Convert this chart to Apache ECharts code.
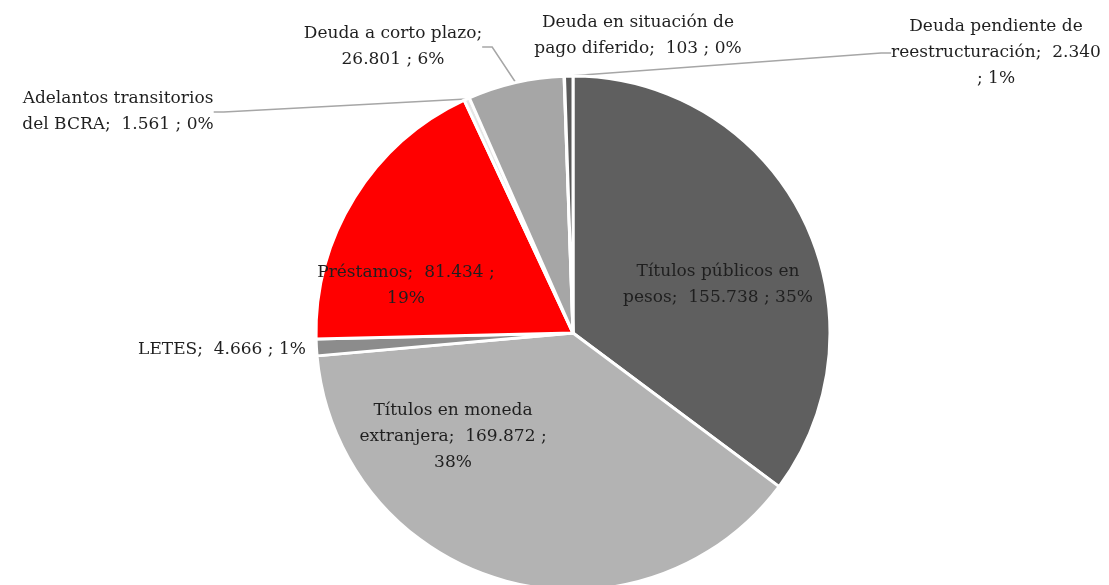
<!DOCTYPE html>
<html>
<head>
<meta charset="utf-8">
<script src="https://cdn.jsdelivr.net/npm/echarts@6/dist/echarts.min.js"></script>
<style>
  html, body { margin: 0; padding: 0; background: #fff; }
  #chart { width: 1109px; height: 585px; }
</style>
</head>
<body>
<div id="chart"></div>
<script>
// categorias (con salto de linea donde el rotulo original corta)
const names = [
  'Títulos públicos en\npesos',
  'Títulos en moneda\nextranjera',
  'LETES',
  'Préstamos',
  'Adelantos transitorios\ndel BCRA',
  'Deuda a corto plazo',
  'Deuda en situación de\npago diferido',
  'Deuda pendiente de\nreestructuración'
];
// millones
const values = [155738, 169872, 4666, 81434, 1561, 26801, 103, 2340];
// porcentajes tal como aparecen en el grafico
const pcts = [35, 38, 1, 19, 0, 6, 0, 1];
const colors = ['#5f5f5f', '#b3b3b3', '#8c8c8c', '#ff0000', '#e6e6e6', '#a6a6a6', '#808080', '#595959'];

// posicion del centro de cada rotulo
const labelPos = {
  0: [718, 285],
  1: [453, 437],
  2: [222, 350],
  3: [406, 286],
  4: [118, 112],
  5: [393, 47],
  6: [638, 36],
  7: [996, 53]
};

const fmt = v => String(v).replace(/\B(?=(\d{3})+(?!\d))/g, '.');

function labelText(i) {
  const n = names[i], v = fmt(values[i]), p = pcts[i] + '%';
  if (i === 1 || i === 3) return n + ';  ' + v + ' ;\n' + p;
  if (i === 5) return n + ';\n' + v + ' ; ' + p;
  if (i === 7) return n + ';  ' + v + '\n; ' + p;
  return n + ';  ' + v + ' ; ' + p;
}

const inside = [0, 1, 3];
const noLine = [2, 6];

const chart = echarts.init(document.getElementById('chart'));
chart.setOption({
  animation: false,
  textStyle: { fontFamily: 'DejaVu Serif' },
  series: [{
    type: 'pie',
    center: [573, 333],
    radius: 257,
    startAngle: 90,
    clockwise: true,
    avoidLabelOverlap: false,
    data: values.map((v, i) => ({
      name: names[i],
      value: v,
      itemStyle: { color: colors[i] },
      label: { show: true, position: inside.includes(i) ? 'inside' : 'outside' },
      labelLine: { show: !inside.includes(i) && !noLine.includes(i) }
    })),
    itemStyle: { borderColor: '#fff', borderWidth: 3 },
    label: {
      formatter: p => labelText(p.dataIndex),
      color: '#1f1f1f',
      fontFamily: 'DejaVu Serif',
      fontSize: 17,
      lineHeight: 26,
      align: 'center'
    },
    labelLine: {
      lineStyle: { color: '#a6a6a6', width: 1.5 },
      length: 10,
      length2: 10
    },
    labelLayout: p => {
      const pos = labelPos[p.dataIndex];
      return { x: pos[0], y: pos[1], align: 'center', verticalAlign: 'middle' };
    }
  }]
});
</script>
</body>
</html>
